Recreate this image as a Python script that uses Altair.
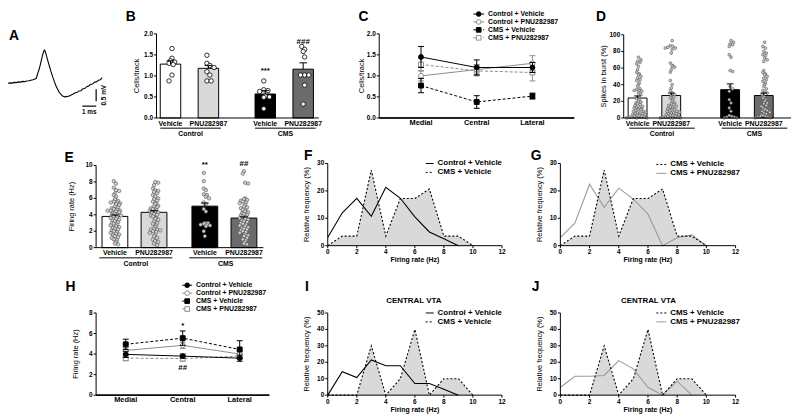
import altair as alt
import numpy as np
import pandas as pd

W, H = 792, 410
FONT = "Liberation Sans"


def X(p):
    return p - 8.0


def Y(p):
    return p - 8.0


# ======================= DATA =======================
# A: spike waveform (ms, mV)
A_T = [0.00, 0.15, 0.30, 0.45, 0.60, 0.75, 0.90, 1.05, 1.20, 1.35, 1.50, 1.65, 1.80, 1.95,
       2.04, 2.10, 2.16, 2.24, 2.32, 2.40, 2.48, 2.56, 2.62, 2.68, 2.76, 2.86, 2.98, 3.10,
       3.22, 3.34, 3.46, 3.58, 3.70, 3.82, 3.94, 4.06, 4.16, 4.28, 4.42, 4.56, 4.70, 4.84,
       4.98, 5.12, 5.26, 5.40, 5.54, 5.68, 5.82, 5.96, 6.10, 6.24, 6.38, 6.52, 6.66, 6.80]
A_V = [0.00, 0.02, 0.01, 0.04, 0.03, 0.06, 0.05, 0.08, 0.07, 0.10, 0.11, 0.13, 0.15, 0.18,
       0.21, 0.33, 0.45, 0.58, 0.76, 0.96, 1.16, 1.32, 1.40, 1.36, 1.20, 0.98, 0.74, 0.50,
       0.28, 0.08, -0.10, -0.25, -0.38, -0.47, -0.53, -0.56, -0.57, -0.55, -0.53, -0.49, -0.45, -0.40,
       -0.39, -0.32, -0.31, -0.23, -0.22, -0.14, -0.11, -0.04, -0.03, 0.05, 0.06, 0.13, 0.15, 0.24]
A_BAR_T = [5.36, 6.36]
A_BAR_T2 = [6.36, 6.36]
A_BAR_V = [-0.96, -0.25]
A_BAR_V2 = [-0.96, -0.75]

# B: cells per track
B_GROUPS = ["Control", "Control", "CMS", "CMS"]
B_TREATS = ["Vehicle", "PNU282987", "Vehicle", "PNU282987"]
B_MEANS = [1.28, 1.18, 0.57, 1.16]
B_SEMS = [0.08, 0.07, 0.08, 0.15]
B_CTRL_VEH = [1.65, 1.42, 1.36, 1.33, 1.30, 1.27, 1.02, 0.88]
B_CTRL_PNU = [1.49, 1.30, 1.25, 1.20, 1.10, 1.02, 0.88, 0.88]
B_CMS_VEH = [0.88, 0.67, 0.65, 0.63, 0.52, 0.50, 0.49, 0.22]
B_CMS_PNU = [1.70, 1.63, 1.58, 1.45, 1.02, 1.02, 1.02, 0.78, 0.33]
B_SIG = ["", "", "***", "###"]
B_SIG_LEVEL = [0, 0, 1.12, 1.80]

# C: cells per track by region
LOCS = ["Medial", "Central", "Lateral"]
SERIES = ["Control + Vehicle", "Control + PNU282987", "CMS + Vehicle", "CMS + PNU282987"]
C_MEANS = [[1.45, 1.20, 1.20], [1.00, 1.15, 1.30], [0.77, 0.38, 0.52], [1.27, 1.12, 1.08]]
C_SEMS = [[0.25, 0.18, 0.12], [0.12, 0.12, 0.18], [0.17, 0.15, 0.07], [0.15, 0.12, 0.20]]

# D: spikes in burst
D_MEANS = [24, 27, 34, 27]
D_SEMS = [2.5, 3.0, 7.0, 3.0]
D_CTRL_VEH = [73, 70, 68, 67, 65, 62, 58, 55, 53, 52, 50, 48, 46, 45, 42, 40, 38, 35, 34, 33,
              33, 32, 30, 28, 25, 23, 22, 20, 19, 18, 17, 16, 15, 14, 13, 12, 12, 11, 10, 10,
              9, 8, 8, 7, 6, 6, 5, 5, 4, 4, 3, 3, 2, 2, 1, 1, 1, 0, 0, 0]
D_CTRL_PNU = [93, 87, 86, 85, 84, 84, 82, 78, 66, 63, 62, 61, 58, 55, 45, 40, 36, 33, 30, 28,
              27, 25, 24, 22, 20, 18, 17, 16, 15, 14, 13, 12, 11, 10, 10, 9, 8, 8, 7, 6,
              6, 5, 5, 4, 4, 3, 3, 2, 2, 1, 1, 1, 0, 0, 0, 0]
D_CMS_VEH = [93, 91, 89, 88, 86, 76, 73, 57, 56, 38, 35, 32, 22, 18, 12, 8, 3, 2, 1, 1, 0, 0]
D_CMS_PNU = [91, 86, 84, 80, 78, 76, 75, 72, 70, 68, 57, 55, 53, 52, 50, 48, 46, 44, 42, 40,
             38, 35, 33, 31, 30, 28, 26, 24, 22, 20, 18, 17, 15, 14, 12, 11, 10, 9, 8, 7,
             6, 5, 4, 3, 2, 2, 1, 1, 0, 0]

# E: firing rate
E_MEANS = [3.8, 4.3, 5.05, 3.6]
E_SEMS = [0.18, 0.20, 0.38, 0.15]
E_CTRL_VEH = [8.1, 7.8, 7.3, 7.0, 6.9, 6.6, 6.4, 6.2, 5.9, 5.7, 5.6, 5.5, 5.5, 5.4, 5.3, 5.2,
              5.0, 4.9, 4.8, 4.7, 4.6, 4.5, 4.5, 4.5, 4.4, 4.3, 4.2, 4.1, 4.0, 4.0, 3.9, 3.8,
              3.7, 3.6, 3.5, 3.4, 3.3, 3.2, 3.1, 3.0, 2.9, 2.8, 2.7, 2.6, 2.5, 2.4, 2.3, 2.2,
              2.1, 2.0, 1.9, 1.8, 1.7, 1.6, 1.5, 1.4, 1.3, 1.2, 1.0, 0.9, 0.7, 0.5, 0.4]
E_CTRL_PNU = [8.0, 7.9, 7.6, 7.2, 7.0, 6.9, 6.8, 6.6, 6.4, 6.2, 6.0, 5.9, 5.7, 5.6, 5.4, 5.3,
              5.1, 5.0, 4.9, 4.8, 4.7, 4.6, 4.5, 4.4, 4.3, 4.2, 4.1, 4.0, 3.9, 3.8, 3.6, 3.5,
              3.4, 3.2, 3.0, 2.9, 2.7, 2.5, 2.3, 2.2, 2.2, 2.1, 2.0, 1.9, 1.8, 1.6, 1.4, 1.2,
              1.0, 0.8, 0.7, 0.5, 0.3]
E_CMS_VEH = [9.1, 8.1, 7.2, 7.0, 6.5, 6.4, 6.2, 6.0, 5.5, 5.3, 4.7, 4.4, 3.0, 3.0, 2.9, 2.8,
             2.8, 2.7, 2.6, 2.0, 1.4]
E_CMS_PNU = [9.3, 9.0, 7.9, 7.8, 6.0, 5.9, 5.8, 5.7, 5.6, 5.5, 5.4, 5.2, 5.0, 4.9, 4.8, 4.6,
             4.5, 4.4, 4.3, 4.2, 4.1, 4.0, 3.9, 3.8, 3.7, 3.6, 3.5, 3.4, 3.3, 3.2, 3.1, 3.0,
             2.9, 2.8, 2.7, 2.6, 2.5, 2.4, 2.3, 2.2, 2.1, 2.0, 1.9, 1.8, 1.6, 1.5, 1.4, 1.2,
             1.0, 0.9, 0.7, 0.5, 0.4]
E_SIG = ["", "", "**", "##"]
E_SIG_LEVEL = [0, 0, 10.06, 10.2]

# F / G / I / J: firing-rate distributions (%)
RATES_10 = [0, 1, 2, 3, 4, 5, 6, 7, 8, 9, 10]
RATES_9 = [0, 1, 2, 3, 4, 5, 6, 7, 8, 9]
F_CMS_VEH = [0, 3.5, 3.5, 27.6, 3.5, 17.2, 17.2, 20.7, 3.5, 3.5, 0]
F_CTRL_VEH = [3.0, 12.0, 17.3, 10.7, 21.3, 17.3, 10.5, 5.0, 2.5, 0]
G_CMS_PNU = [2.9, 8.3, 22.4, 14.0, 21.0, 17.0, 11.5, 0, 2.9, 4.0, 0]
I_CMS_VEH = [0, 0, 0, 30, 0, 10, 40, 0, 10, 10, 0]
I_CTRL_VEH = [0, 14.3, 10.7, 21.4, 17.9, 17.9, 7.1, 7.1, 3.6, 0]
J_CMS_PNU = [4.8, 11.5, 11.5, 12.0, 21.0, 16.0, 4.8, 0, 8.5, 0]

# H: firing rate by region
H_MEANS = [[3.97, 3.80, 3.60], [4.35, 4.85, 4.00], [4.95, 5.55, 4.45], [3.60, 3.56, 3.80]]
H_SEMS = [[0.30, 0.20, 0.30], [0.30, 0.30, 0.30], [0.50, 0.70, 0.85], [0.25, 0.25, 0.30]]


# ======================= AXIS HELPERS (drawn with marks through the panel scales) =======================
def txt(**kw):
    base = dict(font=FONT, color="black", fill="black")
    base.update(kw)
    return base


def y_axis_layers(ys, ax_x, y_dom, yvals, fmt, title, tdx):
    out = []
    line = pd.DataFrame({"a": [y_dom[0]], "b": [y_dom[1]]})
    out.append(alt.Chart(line).mark_rule(color="black", strokeWidth=1).encode(
        x=alt.value(X(ax_x)), y=alt.Y("a:Q", scale=ys, axis=None), y2=alt.Y2("b")))
    tk = pd.DataFrame({"v": yvals, "lab": [format(v, fmt) for v in yvals]})
    out.append(alt.Chart(tk).mark_rule(color="black", strokeWidth=1).encode(
        x=alt.value(X(ax_x) - 2.5), x2=alt.value(X(ax_x)), y=alt.Y("v:Q", scale=ys, axis=None)))
    out.append(alt.Chart(tk).mark_text(**txt(fontSize=6.5, fontWeight="bold", align="right",
                                             baseline="middle")).encode(
        x=alt.value(X(ax_x) - 3.5), y=alt.Y("v:Q", scale=ys, axis=None), text="lab:N"))
    tt = pd.DataFrame({"m": [(y_dom[0] + y_dom[1]) / 2], "t": [title]})
    out.append(alt.Chart(tt).mark_text(**txt(fontSize=7.5, angle=270, align="center",
                                             baseline="middle")).encode(
        x=alt.value(X(ax_x) - tdx), y=alt.Y("m:Q", scale=ys, axis=None), text="t:N"))
    return out


def swarm(vals, binw, step, maxk):
    vals = np.asarray(vals, float)
    order = np.argsort(-vals, kind="stable")
    off = np.zeros(len(vals))
    cnt = {}
    for i in order:
        b = int(np.floor(vals[i] / binw))
        k = cnt.get(b, 0)
        cnt[b] = k + 1
        k = k % maxk
        m = (k + 1) // 2
        off[i] = m * step * (1 if k % 2 else -1) + ((b % 3) - 1) * step * 0.35
    return off


# ======================= PANELS =======================
def bar_panel(groups, treats, means, sems, point_lists, fills, sig, sig_level,
              gap, slot0, slot_px, ax_x, x_end, ax_y, y_top, y_dom, ytitle, yvals, yfmt, tdx,
              half, cap, sw, pt, ul):
    uniq = list(dict.fromkeys(groups))
    slots, cnt = [], {}
    for g in groups:
        ti = cnt.get(g, 0)
        cnt[g] = ti + 1
        slots.append(0.5 + ti + uniq.index(g) * (2 + gap))
    xdom = [(ax_x - slot0) / slot_px, (x_end - slot0) / slot_px]
    xs = alt.Scale(domain=xdom, range=[X(ax_x), X(x_end)], nice=False, zero=False)
    ys = alt.Scale(domain=y_dom, range=[Y(ax_y), Y(y_top)], nice=False, zero=False)
    bars = pd.DataFrame({"slot": slots, "mean": means, "sem": sems, "fill": fills,
                         "treat": treats, "group": groups, "sig": sig, "sig_y": sig_level})
    bars["lo"] = bars["slot"] - half
    bars["hi"] = bars["slot"] + half
    bars["clo"] = bars["slot"] - cap
    bars["chi"] = bars["slot"] + cap
    bars["top"] = bars["mean"] + bars["sem"]
    bars["zero"] = 0.0
    rows = []
    for s, vals in zip(slots, point_lists):
        offs = swarm(vals, *sw)
        for v, o in zip(vals, offs):
            rows.append({"x": s + o, "v": v})
    pts = pd.DataFrame(rows)
    grp = []
    for g in uniq:
        ss = [s for s, gg in zip(slots, groups) if gg == g]
        grp.append({"group": g, "start": min(ss) - ul[0], "end": max(ss) + ul[1],
                    "mid": (min(ss) - ul[0] + max(ss) + ul[1]) / 2})
    grp = pd.DataFrame(grp)

    def xq(f):
        return alt.X(f, type="quantitative", scale=xs, axis=None)

    def yq(f):
        return alt.Y(f, type="quantitative", scale=ys, axis=None)

    xl = pd.DataFrame({"a": [xdom[0]], "b": [xdom[1]]})
    layers = [
        alt.Chart(bars).mark_rect(stroke="black", strokeWidth=1).encode(
            x=xq("lo"), x2=alt.X2("hi"), y=yq("zero"), y2=alt.Y2("mean"),
            fill=alt.Fill("fill:N", scale=None)),
        alt.Chart(pts).mark_circle(opacity=1, **pt).encode(x=xq("x"), y=yq("v")),
        alt.Chart(bars).mark_rule(color="black", strokeWidth=1).encode(
            x=xq("slot"), y=yq("mean"), y2=alt.Y2("top")),
        alt.Chart(bars).mark_rule(color="black", strokeWidth=1).encode(
            x=xq("clo"), x2=alt.X2("chi"), y=yq("top")),
        alt.Chart(xl).mark_rule(color="black", strokeWidth=1).encode(
            x=xq("a"), x2=alt.X2("b"), y=alt.value(Y(ax_y))),
        alt.Chart(bars).mark_text(**txt(fontSize=7, fontWeight="bold", baseline="alphabetic")).encode(
            x=xq("slot"), y=alt.value(Y(ax_y + 7.8)), text="treat:N"),
        alt.Chart(grp).mark_rule(color="black", strokeWidth=1).encode(
            x=xq("start"), x2=alt.X2("end"), y=alt.value(Y(ax_y + 10.3))),
        alt.Chart(grp).mark_text(**txt(fontSize=7, fontWeight="bold", baseline="alphabetic")).encode(
            x=xq("mid"), y=alt.value(Y(ax_y + 18.3)), text="group:N"),
        alt.Chart(bars[bars["sig"] != ""]).mark_text(
            **txt(fontSize=8, fontWeight="bold", baseline="middle")).encode(
            x=xq("slot"), y=yq("sig_y"), text="sig:N"),
    ]
    layers += y_axis_layers(ys, ax_x, y_dom, yvals, yfmt, ytitle, tdx)
    return alt.layer(*layers)


LINE_STY = {
    "Control + Vehicle": dict(color="black", dash=None, shape="circle", fill="black"),
    "Control + PNU282987": dict(color="#8c8c8c", dash=None, shape="circle", fill="white"),
    "CMS + Vehicle": dict(color="black", dash=[3, 2], shape="square", fill="black"),
    "CMS + PNU282987": dict(color="#8c8c8c", dash=[3, 2], shape="square", fill="white"),
}
DRAW_ORDER = ["CMS + PNU282987", "Control + PNU282987", "CMS + Vehicle", "Control + Vehicle"]


def line_panel(means, sems, ax_x, x_end, pad, ax_y, y_top, y_dom, ytitle, yvals, yfmt, tdx, sigs):
    xs = alt.Scale(type="point", domain=LOCS, range=[X(ax_x), X(x_end)], padding=pad)
    ys = alt.Scale(domain=y_dom, range=[Y(ax_y), Y(y_top)], nice=False, zero=False)
    xn = alt.X("loc:N", scale=xs, sort=LOCS, axis=None)
    layers = []
    locdf = pd.DataFrame({"loc": LOCS})
    layers.append(alt.Chart(locdf).mark_rule(color="black", strokeWidth=1).encode(
        x=alt.value(X(ax_x)), x2=alt.value(X(x_end)), y=alt.value(Y(ax_y))))
    layers.append(alt.Chart(locdf).mark_text(**txt(fontSize=7.5, fontWeight="bold",
                                                    baseline="middle")).encode(
        x=xn, y=alt.value(Y(ax_y + 5.2)), text="loc:N"))
    for name in DRAW_ORDER:
        k = SERIES.index(name)
        st = LINE_STY[name]
        df = pd.DataFrame({"loc": LOCS, "i": list(range(len(LOCS))), "m": means[k], "s": sems[k]})
        df["lo"] = df["m"] - df["s"]
        df["hi"] = df["m"] + df["s"]
        base = alt.Chart(df)
        lk = dict(color=st["color"], strokeWidth=1)
        if st["dash"]:
            lk["strokeDash"] = st["dash"]
        layers.append(base.mark_line(**lk).encode(
            x=xn, y=alt.Y("m:Q", scale=ys, axis=None), order="i:Q"))
        layers.append(base.mark_rule(color=st["color"], strokeWidth=1).encode(
            x=xn, y=alt.Y("lo:Q", scale=ys, axis=None), y2=alt.Y2("hi")))
        for f in ("lo", "hi"):
            layers.append(base.mark_tick(color=st["color"], size=6, thickness=1, opacity=1).encode(
                x=xn, y=alt.Y(f + ":Q", scale=ys, axis=None)))
        layers.append(base.mark_point(shape=st["shape"], filled=True, fill=st["fill"],
                                      stroke=st["color"], strokeWidth=1, size=24, opacity=1).encode(
            x=xn, y=alt.Y("m:Q", scale=ys, axis=None)))
    if sigs:
        sdf = pd.DataFrame(sigs, columns=["loc", "lev", "txt"])
        layers.append(alt.Chart(sdf).mark_text(**txt(fontSize=8, fontWeight="bold",
                                                     baseline="middle")).encode(
            x=xn, y=alt.Y("lev:Q", scale=ys, axis=None), text="txt:N"))
    layers += y_axis_layers(ys, ax_x, y_dom, yvals, yfmt, ytitle, tdx)
    return alt.layer(*layers)


def hist_panel(x0p, x12p, y0p, ytp, ymax, yvals, area_vals, lines):
    xs = alt.Scale(domain=[0, 12], range=[X(x0p), X(x12p)], nice=False, zero=False)
    ys = alt.Scale(domain=[0, ymax], range=[Y(y0p), Y(ytp)], nice=False, zero=False)
    xq = alt.X("r:Q", scale=xs, axis=None)
    yq = alt.Y("f:Q", scale=ys, axis=None)
    adf = pd.DataFrame({"r": RATES_10, "f": area_vals})
    layers = [alt.Chart(adf).mark_area(color="#d9d9d9", opacity=1).encode(x=xq, y=yq)]
    for rates, vals, color in lines:
        ldf = pd.DataFrame({"r": rates, "f": vals})
        layers.append(alt.Chart(ldf).mark_line(color=color, strokeWidth=1.1).encode(x=xq, y=yq))
    layers.append(alt.Chart(adf).mark_line(color="black", strokeWidth=1.1, strokeDash=[2, 2]).encode(
        x=xq, y=yq))
    # x axis
    xl = pd.DataFrame({"r": [0], "r2": [12]})
    layers.append(alt.Chart(xl).mark_rule(color="black", strokeWidth=1).encode(
        x=xq, x2=alt.X2("r2"), y=alt.value(Y(y0p))))
    tk = pd.DataFrame({"r": list(range(0, 13, 2))})
    tk["lab"] = tk["r"].astype(str)
    layers.append(alt.Chart(tk).mark_rule(color="black", strokeWidth=1).encode(
        x=xq, y=alt.value(Y(y0p)), y2=alt.value(Y(y0p) + 2.5)))
    layers.append(alt.Chart(tk).mark_text(**txt(fontSize=6.5, fontWeight="bold", baseline="top")).encode(
        x=xq, y=alt.value(Y(y0p) + 3.5), text="lab:N"))
    tt = pd.DataFrame({"r": [6], "t": ["Firing rate (Hz)"]})
    layers.append(alt.Chart(tt).mark_text(**txt(fontSize=7, fontWeight="bold", baseline="middle")).encode(
        x=xq, y=alt.value(Y(y0p) + 15), text="t:N"))
    layers += y_axis_layers(ys, x0p, [0, ymax], yvals, "d", "Relative frequency (%)", 21)
    return alt.layer(*layers)


def legend(xs0, xs1, xt, rows_y, labels, styles, marker, font=7):
    out = []
    for lab, yy in zip(labels, rows_y):
        st = styles[lab]
        base = alt.Chart(pd.DataFrame({"label": [lab]}))
        kw = dict(color=st["color"], strokeWidth=1)
        if st.get("dash"):
            kw["strokeDash"] = st["dash"]
        out.append(base.mark_rule(**kw).encode(x=alt.value(X(xs0)), x2=alt.value(X(xs1)),
                                               y=alt.value(Y(yy))))
        if marker:
            out.append(base.mark_point(shape=st["shape"], filled=True, fill=st["fill"],
                                       stroke=st["color"], strokeWidth=1, size=22, opacity=1).encode(
                x=alt.value(X((xs0 + xs1) / 2)), y=alt.value(Y(yy))))
        out.append(base.mark_text(**txt(fontSize=font, fontWeight="bold", align="left",
                                        baseline="middle")).encode(
            x=alt.value(X(xt)), y=alt.value(Y(yy)), text="label:N"))
    return out


def text_at(s, px, py, size, align="left", baseline="alphabetic"):
    return alt.Chart(pd.DataFrame({"t": [s]})).mark_text(
        **txt(fontSize=size, fontWeight="bold", align=align, baseline=baseline)).encode(
        x=alt.value(X(px)), y=alt.value(Y(py)), text="t:N")


# ---- A ----
axs = alt.Scale(domain=[0, 7], range=[X(8), X(106)], nice=False, zero=False)
ays = alt.Scale(domain=[-1.5, 2.0], range=[Y(118), Y(34)], nice=False, zero=False)
adf = pd.DataFrame({"t": A_T, "v": A_V})
bdf = pd.DataFrame({"t": A_BAR_T, "t2": A_BAR_T2, "v": A_BAR_V, "v2": A_BAR_V2})
ldf = pd.DataFrame({"t": [5.86, 6.95], "v": [-1.22, -0.5], "lab": ["1 ms", "0.5 mV"]})
panelA = alt.layer(
    alt.Chart(adf).mark_line(color="black", strokeWidth=1.1).encode(
        x=alt.X("t:Q", scale=axs, axis=None), y=alt.Y("v:Q", scale=ays, axis=None)),
    alt.Chart(bdf).mark_rule(color="black", strokeWidth=1.2).encode(
        x=alt.X("t:Q", scale=axs, axis=None), x2=alt.X2("t2"),
        y=alt.Y("v:Q", scale=ays, axis=None), y2=alt.Y2("v2")),
    alt.Chart(ldf.iloc[[0]]).mark_text(**txt(fontSize=6.5, fontWeight="bold", baseline="middle")).encode(
        x=alt.X("t:Q", scale=axs, axis=None), y=alt.Y("v:Q", scale=ays, axis=None), text="lab:N"),
    alt.Chart(ldf.iloc[[1]]).mark_text(**txt(fontSize=6.5, fontWeight="bold", baseline="middle",
                                              angle=270)).encode(
        x=alt.X("t:Q", scale=axs, axis=None), y=alt.Y("v:Q", scale=ays, axis=None), text="lab:N"),
)

PT_B = dict(fill="white", stroke="black", strokeWidth=0.8, size=20)
PT_D = dict(fill="#c8c8c8", stroke="#404040", strokeWidth=0.5, size=8)
PT_E = dict(fill="#d2d2d2", stroke="#505050", strokeWidth=0.6, size=12)
FILLS = ["white", "#d9d9d9", "black", "#6b6b6b"]

panelB = bar_panel(B_GROUPS, B_TREATS, B_MEANS, B_SEMS,
                   [B_CTRL_VEH, B_CTRL_PNU, B_CMS_VEH, B_CMS_PNU], FILLS, B_SIG, B_SIG_LEVEL,
                   gap=0.5, slot0=153.0, slot_px=38.3, ax_x=158, x_end=322, ax_y=117, y_top=32,
                   y_dom=[0, 2], ytitle="Cells/track", yvals=[0, 0.5, 1.0, 1.5, 2.0], yfmt=".1f",
                   tdx=20, half=0.27, cap=0.1, sw=(0.07, 0.11, 5), pt=PT_B, ul=(0.27, 0.33))
panelD = bar_panel(B_GROUPS, B_TREATS, D_MEANS, D_SEMS,
                   [D_CTRL_VEH, D_CTRL_PNU, D_CMS_VEH, D_CMS_PNU], FILLS, ["", "", "", ""], [0, 0, 0, 0],
                   gap=0.75, slot0=627.0, slot_px=34.0, ax_x=630, x_end=799, ax_y=117, y_top=33,
                   y_dom=[0, 100], ytitle="Spikes in burst (%)", yvals=[0, 20, 40, 60, 80, 100],
                   yfmt="d", tdx=20, half=0.28, cap=0.1, sw=(3.5, 0.075, 9), pt=PT_D, ul=(0.25, 0.7))
panelE = bar_panel(B_GROUPS, B_TREATS, E_MEANS, E_SEMS,
                   [E_CTRL_VEH, E_CTRL_PNU, E_CMS_VEH, E_CMS_PNU], FILLS, E_SIG, E_SIG_LEVEL,
                   gap=0.3, slot0=96.25, slot_px=39.5, ax_x=97, x_end=266, ax_y=248, y_top=165,
                   y_dom=[0, 10], ytitle="Firing rate (Hz)", yvals=[0, 2, 4, 6, 8, 10],
                   yfmt="d", tdx=24, half=0.33, cap=0.1, sw=(0.3, 0.08, 9), pt=PT_E, ul=(0.4, 0.47))

panelC = line_panel(C_MEANS, C_SEMS, ax_x=383, x_end=580, pad=0.75, ax_y=117, y_top=32,
                    y_dom=[0, 2], ytitle="Cells/track", yvals=[0, 0.5, 1.0, 1.5, 2.0], yfmt=".1f",
                    tdx=17, sigs=None)
panelH = line_panel(H_MEANS, H_SEMS, ax_x=97, x_end=272, pad=0.52, ax_y=397, y_top=314,
                    y_dom=[0, 8], ytitle="Firing rate (Hz)", yvals=[0, 2, 4, 6, 8], yfmt="d",
                    tdx=20, sigs=[("Central", 6.75, "*"), ("Central", 2.6, "##")])

panelF = hist_panel(331, 507, 246, 163, 30, [0, 10, 20, 30], F_CMS_VEH,
                    [(RATES_9, F_CTRL_VEH, "black")])
panelG = hist_panel(566, 743, 246, 163, 30, [0, 10, 20, 30], F_CMS_VEH,
                    [(RATES_10, G_CMS_PNU, "#9a9a9a")])
panelI = hist_panel(331, 507, 397, 314, 50, [0, 10, 20, 30, 40, 50], I_CMS_VEH,
                    [(RATES_9, I_CTRL_VEH, "black")])
panelJ = hist_panel(566, 743, 397, 314, 50, [0, 10, 20, 30, 40, 50], I_CMS_VEH,
                    [(RATES_9, J_CMS_PNU, "#9a9a9a")])

HIST_STY = {
    "Control + Vehicle": dict(color="black"),
    "CMS + Vehicle": dict(color="black", dash=[2, 2]),
    "CMS + PNU282987": dict(color="#9a9a9a"),
}

deco = []
deco += legend(478, 489, 493, [12, 20, 28, 36], SERIES, LINE_STY, True)
deco += legend(184, 194, 198, [286, 294, 302, 310], SERIES, LINE_STY, True)
deco += legend(430, 438, 442, [163, 172], ["Control + Vehicle", "CMS + Vehicle"], HIST_STY, False, 8)
deco += legend(663, 673, 677, [164, 173], ["CMS + Vehicle", "CMS + PNU282987"], HIST_STY, False, 8)
deco += legend(430, 438, 442, [314, 323], ["Control + Vehicle", "CMS + Vehicle"], HIST_STY, False, 8)
deco += legend(663, 673, 677, [314, 323], ["CMS + Vehicle", "CMS + PNU282987"], HIST_STY, False, 8)
deco.append(text_at("CENTRAL VTA", 418, 302, 8, align="center", baseline="middle"))
deco.append(text_at("CENTRAL VTA", 655, 302, 8, align="center", baseline="middle"))
for letter, lx, ly in [("A", 9, 38), ("B", 127, 19), ("C", 362, 19), ("D", 602, 19),
                       ("E", 65, 161), ("F", 307, 159), ("G", 536, 159),
                       ("H", 66, 292), ("I", 308, 292), ("J", 537, 292)]:
    deco.append(text_at(letter, lx, ly, 14))

chart = alt.layer(panelA, panelB, panelC, panelD, panelE, panelF, panelG, panelH, panelI, panelJ,
                  *deco).resolve_scale(x="independent", y="independent").properties(
    width=W, height=H, padding=0, autosize=alt.AutoSizeParams(type="none"),
    background="white").configure_view(stroke=None)

chart.save("out.html", embed_options={"renderer": "svg", "actions": False})
